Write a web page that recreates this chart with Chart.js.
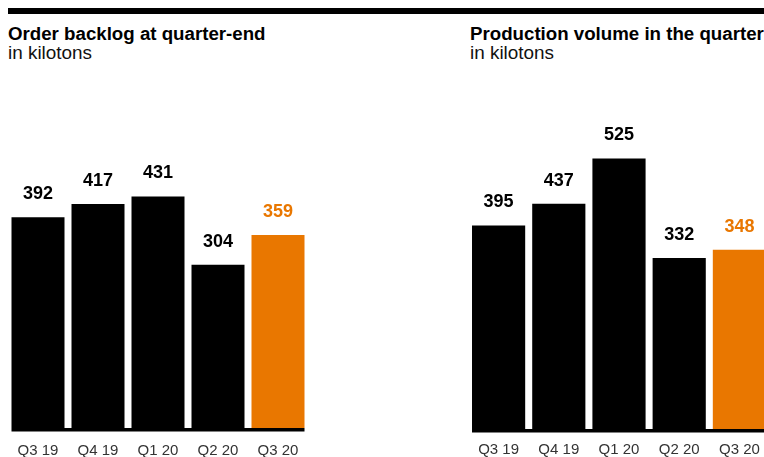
<!DOCTYPE html>
<html><head><meta charset="utf-8">
<script src="https://cdn.jsdelivr.net/npm/chart.js@4"></script>
<style>
html,body{margin:0;padding:0;background:#fff;width:764px;height:457px;overflow:hidden;position:relative;font-family:"Liberation Sans",Arial,Helvetica,sans-serif;}
#rule{position:absolute;left:8px;top:8px;width:756px;height:6px;background:#000;}
.title{position:absolute;font-weight:bold;font-size:18.7px;line-height:20px;color:#000;white-space:nowrap;}
.sub{position:absolute;font-size:18.9px;line-height:20px;color:#111;white-space:nowrap;}
.wrap{position:absolute;top:0;height:484px;}
</style></head>
<body>
<div id="rule"></div>
<div class="title" style="left:8px;top:24px">Order backlog at quarter-end</div>
<div class="sub" style="left:8px;top:43px">in kilotons</div>
<div class="title" style="left:470px;top:24px">Production volume in the quarter</div>
<div class="sub" style="left:470px;top:43px">in kilotons</div>
<div class="wrap" style="left:0;width:320px"><canvas id="c1"></canvas></div>
<div class="wrap" style="left:460px;width:320px"><canvas id="c2"></canvas></div>
<script>
const categories = ['Q3 19', 'Q4 19', 'Q1 20', 'Q2 20', 'Q3 20'];
const backlog = [392, 417, 431, 304, 359];
const production = [395, 437, 525, 332, 348];

const BLACK = '#000000';
const ORANGE = '#e97700';
const colorsFor = arr => arr.map((v, i) => i === arr.length - 1 ? ORANGE : BLACK);

const valueLabels = {
  id: 'valueLabels',
  afterDatasetsDraw(chart) {
    const ctx = chart.ctx;
    const meta = chart.getDatasetMeta(0);
    const data = chart.data.datasets[0].data;
    ctx.save();
    ctx.font = 'bold 18px "Liberation Sans", Arial, sans-serif';
    ctx.textAlign = 'center';
    ctx.textBaseline = 'middle';
    meta.data.forEach((bar, i) => {
      ctx.fillStyle = i === data.length - 1 ? ORANGE : BLACK;
      ctx.fillText(String(data[i]), bar.x, bar.y - 23);
    });
    ctx.restore();
  }
};

const baseLine = {
  id: 'baseLine',
  afterDatasetsDraw(chart) {
    const ctx = chart.ctx;
    const meta = chart.getDatasetMeta(0);
    const first = meta.data[0], last = meta.data[meta.data.length - 1];
    const y0 = chart.scales.y.getPixelForValue(0);
    ctx.save();
    ctx.fillStyle = '#000';
    ctx.fillRect(first.x - first.width / 2, y0, (last.x + last.width / 2) - (first.x - first.width / 2), 3.5);
    ctx.restore();
  }
};

function makeChart(id, values, yMax, pad, tickPad) {
  return new Chart(document.getElementById(id), {
    type: 'bar',
    data: {
      labels: categories,
      datasets: [{
        data: values,
        backgroundColor: colorsFor(values),
        borderWidth: 0,
        categoryPercentage: 1,
        barPercentage: 53 / 60
      }]
    },
    options: {
      responsive: true,
      maintainAspectRatio: false,
      animation: false,
      layout: { padding: pad },
      plugins: { legend: { display: false }, tooltip: { enabled: false } },
      scales: {
        x: {
          grid: { display: false, drawTicks: false },
          border: { display: false },
          ticks: { color: '#333', font: { size: 15, family: '"Liberation Sans", Arial, sans-serif' }, padding: tickPad, maxRotation: 0 }
        },
        y: { display: false, min: 0, max: yMax }
      }
    },
    plugins: [baseLine, valueLabels]
  });
}

makeChart('c1', backlog, 722, { left: 8, right: 12, top: 40, bottom: 11 }, 13.5);
makeChart('c2', production, 755, { left: 8.5, right: 10.5, top: 40, bottom: 13 }, 12);
</script>
</body></html>
